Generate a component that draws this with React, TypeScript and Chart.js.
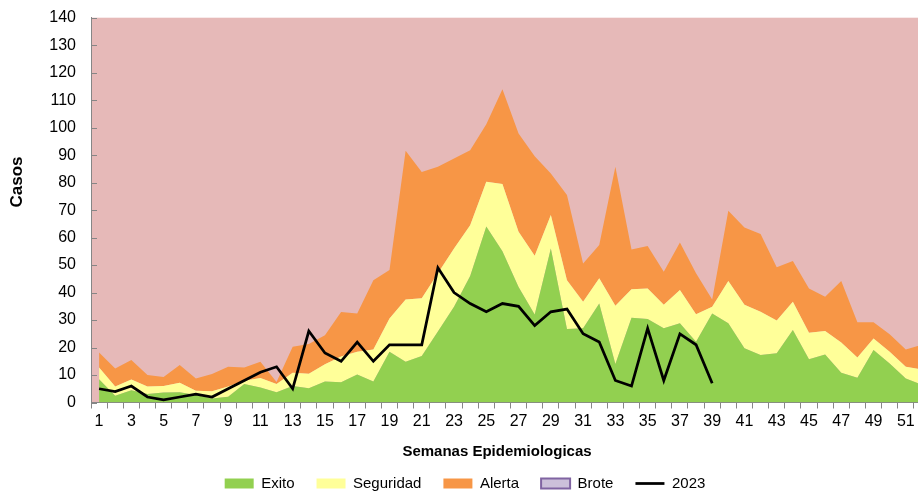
import React, { useEffect, useRef } from 'react';
import { Chart, registerables } from 'chart.js';

Chart.register(...registerables);

// ---- Data ----
const weeks = [
  '1', '2', '3', '4', '5', '6', '7', '8', '9', '10', '11', '12', '13',
  '14', '15', '16', '17', '18', '19', '20', '21', '22', '23', '24', '25', '26',
  '27', '28', '29', '30', '31', '32', '33', '34', '35', '36', '37', '38', '39',
  '40', '41', '42', '43', '44', '45', '46', '47', '48', '49', '50', '51', '52',
];

// Upper limit of the "Exito" zone
const exito = [
  8.5, 2.5, 4.5, 3.1, 3.6, 3.7, 2.7, 1.5, 2.1, 6.7, 5.5, 3.7, 6.0,
  5.2, 7.6, 7.4, 10.2, 7.6, 18.5, 14.8, 16.9, 25.8, 34.8, 46.0, 64.0, 55.0,
  42.0, 32.0, 56.0, 26.7, 27.0, 36.0, 14.0, 30.8, 30.4, 27.0, 28.8, 22.1, 32.4,
  28.8, 19.7, 17.3, 17.9, 26.4, 15.7, 17.5, 10.8, 9.0, 19.1, 14.2, 8.7, 6.5,
];

// Upper limit of the "Seguridad" zone
const seguridad = [
  12.7, 5.8, 8.4, 5.8, 6.0, 7.2, 4.3, 4.1, 5.8, 7.9, 8.9, 6.7, 10.8,
  10.5, 13.9, 16.7, 18.5, 19.3, 30.6, 37.5, 37.9, 47.0, 56.0, 64.5, 80.3, 79.5,
  62.1, 53.4, 68.2, 44.5, 36.7, 45.2, 35.2, 41.2, 41.5, 35.6, 40.9, 32.1, 34.8,
  44.2, 35.6, 33.0, 29.8, 36.7, 25.4, 26.0, 21.8, 16.4, 23.3, 18.5, 13.0, 12.0,
];

// Upper limit of the "Alerta" zone
const alerta = [
  18.2, 12.4, 15.5, 10.0, 9.3, 13.6, 8.7, 10.4, 13.0, 12.7, 14.8, 7.5, 20.3,
  21.3, 24.5, 32.9, 32.4, 44.5, 48.2, 91.6, 83.9, 85.8, 88.8, 91.8, 101.2, 114.0,
  97.9, 89.6, 83.3, 75.5, 50.6, 57.3, 85.8, 55.7, 56.9, 47.6, 58.2, 47.0, 37.5,
  69.8, 63.7, 61.3, 49.2, 51.5, 41.5, 38.5, 44.2, 29.2, 29.2, 24.8, 19.3, 21.0,
];

// "Brote" zone: no own marks in the picture (shown only in the legend)
const brote: (number | null)[] = [];

// Cases 2023
const casos2023: (number | null)[] = [
  5, 4, 6, 2, 1, 2, 3, 2, 5, 8, 11, 13, 5,
  26, 18, 15, 22, 15, 21, 21, 21, 49, 40, 36, 33, 36,
  35, 28, 33, 34, 25, 22, 8, 6, 27, 8, 25, 21, 7,
  null, null, null, null, null, null, null, null, null, null, null, null, null,
];

const yMin = 0;
const yMax = 140;
const yStep = 10;

const FONT = '"Liberation Sans", Arial, sans-serif';
const AXIS_GRAY = '#868686';

const plotBackground = {
  id: 'plotBackground',
  beforeDraw(chart: any) {
    const { ctx, chartArea: a } = chart;
    ctx.save();
    ctx.fillStyle = '#e6b9b8';
    ctx.fillRect(a.left, a.top, a.right - a.left, a.bottom - a.top);
    ctx.restore();
  },
};

const innerYTicks = {
  id: 'innerYTicks',
  afterDatasetsDraw(chart: any) {
    const { ctx, chartArea: a } = chart;
    const y = chart.scales.y;
    ctx.save();
    ctx.strokeStyle = AXIS_GRAY;
    ctx.lineWidth = 1;
    y.ticks.forEach((t: any) => {
      const py = Math.round(y.getPixelForValue(t.value)) + 0.5;
      ctx.beginPath();
      ctx.moveTo(a.left, py);
      ctx.lineTo(a.left + 6, py);
      ctx.stroke();
    });
    ctx.restore();
  },
};

const axisTitles = {
  id: 'axisTitles',
  afterDraw(chart: any) {
    const { ctx } = chart;
    ctx.save();
    ctx.fillStyle = '#000';
    ctx.textAlign = 'center';
    ctx.textBaseline = 'middle';
    ctx.font = `bold 15px ${FONT}`;
    ctx.fillText('Semanas Epidemiologicas', 497, 452);
    ctx.translate(17, 182);
    ctx.rotate(-Math.PI / 2);
    ctx.font = `bold 17px ${FONT}`;
    ctx.fillText('Casos', 0, 0);
    ctx.restore();
  },
};

export default function App() {
  const canvasRef = useRef<HTMLCanvasElement | null>(null);

  useEffect(() => {
    const canvas = canvasRef.current;
    if (!canvas) return;
    const areaBase = {
      type: 'line' as const,
      pointRadius: 0,
      pointHoverRadius: 0,
      borderWidth: 0,
      tension: 0,
      pointStyle: 'rect',
      order: 1,
    };
    const chart = new Chart(canvas, {
      type: 'line',
      data: {
        labels: weeks,
        datasets: [
          { ...areaBase, label: 'Exito', data: exito, backgroundColor: '#92d050', borderColor: '#92d050', fill: 'origin' },
          { ...areaBase, label: 'Seguridad', data: seguridad, backgroundColor: '#ffff99', borderColor: '#ffff99', fill: '-1' },
          { ...areaBase, label: 'Alerta', data: alerta, backgroundColor: '#f79646', borderColor: '#f79646', fill: '-1' },
          { ...areaBase, label: 'Brote', data: brote, backgroundColor: '#ccc0da', borderColor: '#8064a2', borderWidth: 2, fill: false },
          {
            type: 'line',
            label: '2023',
            data: casos2023,
            borderColor: '#000000',
            backgroundColor: '#000000',
            borderWidth: 2.75,
            pointRadius: 0,
            pointHoverRadius: 0,
            pointStyle: 'line',
            tension: 0,
            fill: false,
            spanGaps: false,
            order: 0,
          },
        ] as any,
      },
      options: {
        responsive: false,
        animation: false,
        events: [],
        layout: { padding: { left: 0, right: 0, top: 17.7, bottom: 0 } },
        plugins: {
          legend: {
            display: true,
            position: 'bottom',
            labels: {
              usePointStyle: true,
              pointStyleWidth: 29,
              boxWidth: 29,
              boxHeight: 10,
              padding: 22,
              color: '#000',
              font: { family: FONT, size: 15 },
              sort: (a: any, b: any) => a.datasetIndex - b.datasetIndex,
            },
          },
          tooltip: { enabled: false },
          title: { display: false },
        },
        scales: {
          x: {
            type: 'category',
            offset: true,
            grid: {
              display: true,
              offset: true,
              drawOnChartArea: false,
              drawTicks: true,
              tickLength: 6,
              color: AXIS_GRAY,
            },
            border: { display: true, color: AXIS_GRAY, width: 1 },
            ticks: {
              autoSkip: false,
              maxRotation: 0,
              minRotation: 0,
              padding: 3,
              color: '#000',
              font: { family: FONT, size: 16 },
              callback: (_v: any, idx: number) => (idx % 2 === 0 ? weeks[idx] : ''),
            },
            afterFit: (scale: any) => {
              scale.height = 51.5;
              scale.paddingLeft = 0;
              scale.paddingRight = 0;
            },
          },
          y: {
            type: 'linear',
            min: yMin,
            max: yMax,
            grid: { display: false, drawTicks: false },
            border: { display: true, color: AXIS_GRAY, width: 1 },
            ticks: {
              stepSize: yStep,
              padding: 15,
              color: '#000',
              font: { family: FONT, size: 16 },
            },
            afterFit: (scale: any) => {
              scale.width = 91;
              scale.paddingTop = 0;
              scale.paddingBottom = 0;
            },
          },
        },
      } as any,
      plugins: [plotBackground, innerYTicks, axisTitles],
    });
    return () => chart.destroy();
  }, []);

  return (
    <div
      style={{
        position: 'absolute',
        left: 0,
        top: 0,
        width: 918,
        height: 492,
        overflow: 'hidden',
        background: '#ffffff',
      }}
    >
      <canvas ref={canvasRef} width={930} height={501} style={{ display: 'block' }} />
    </div>
  );
}
